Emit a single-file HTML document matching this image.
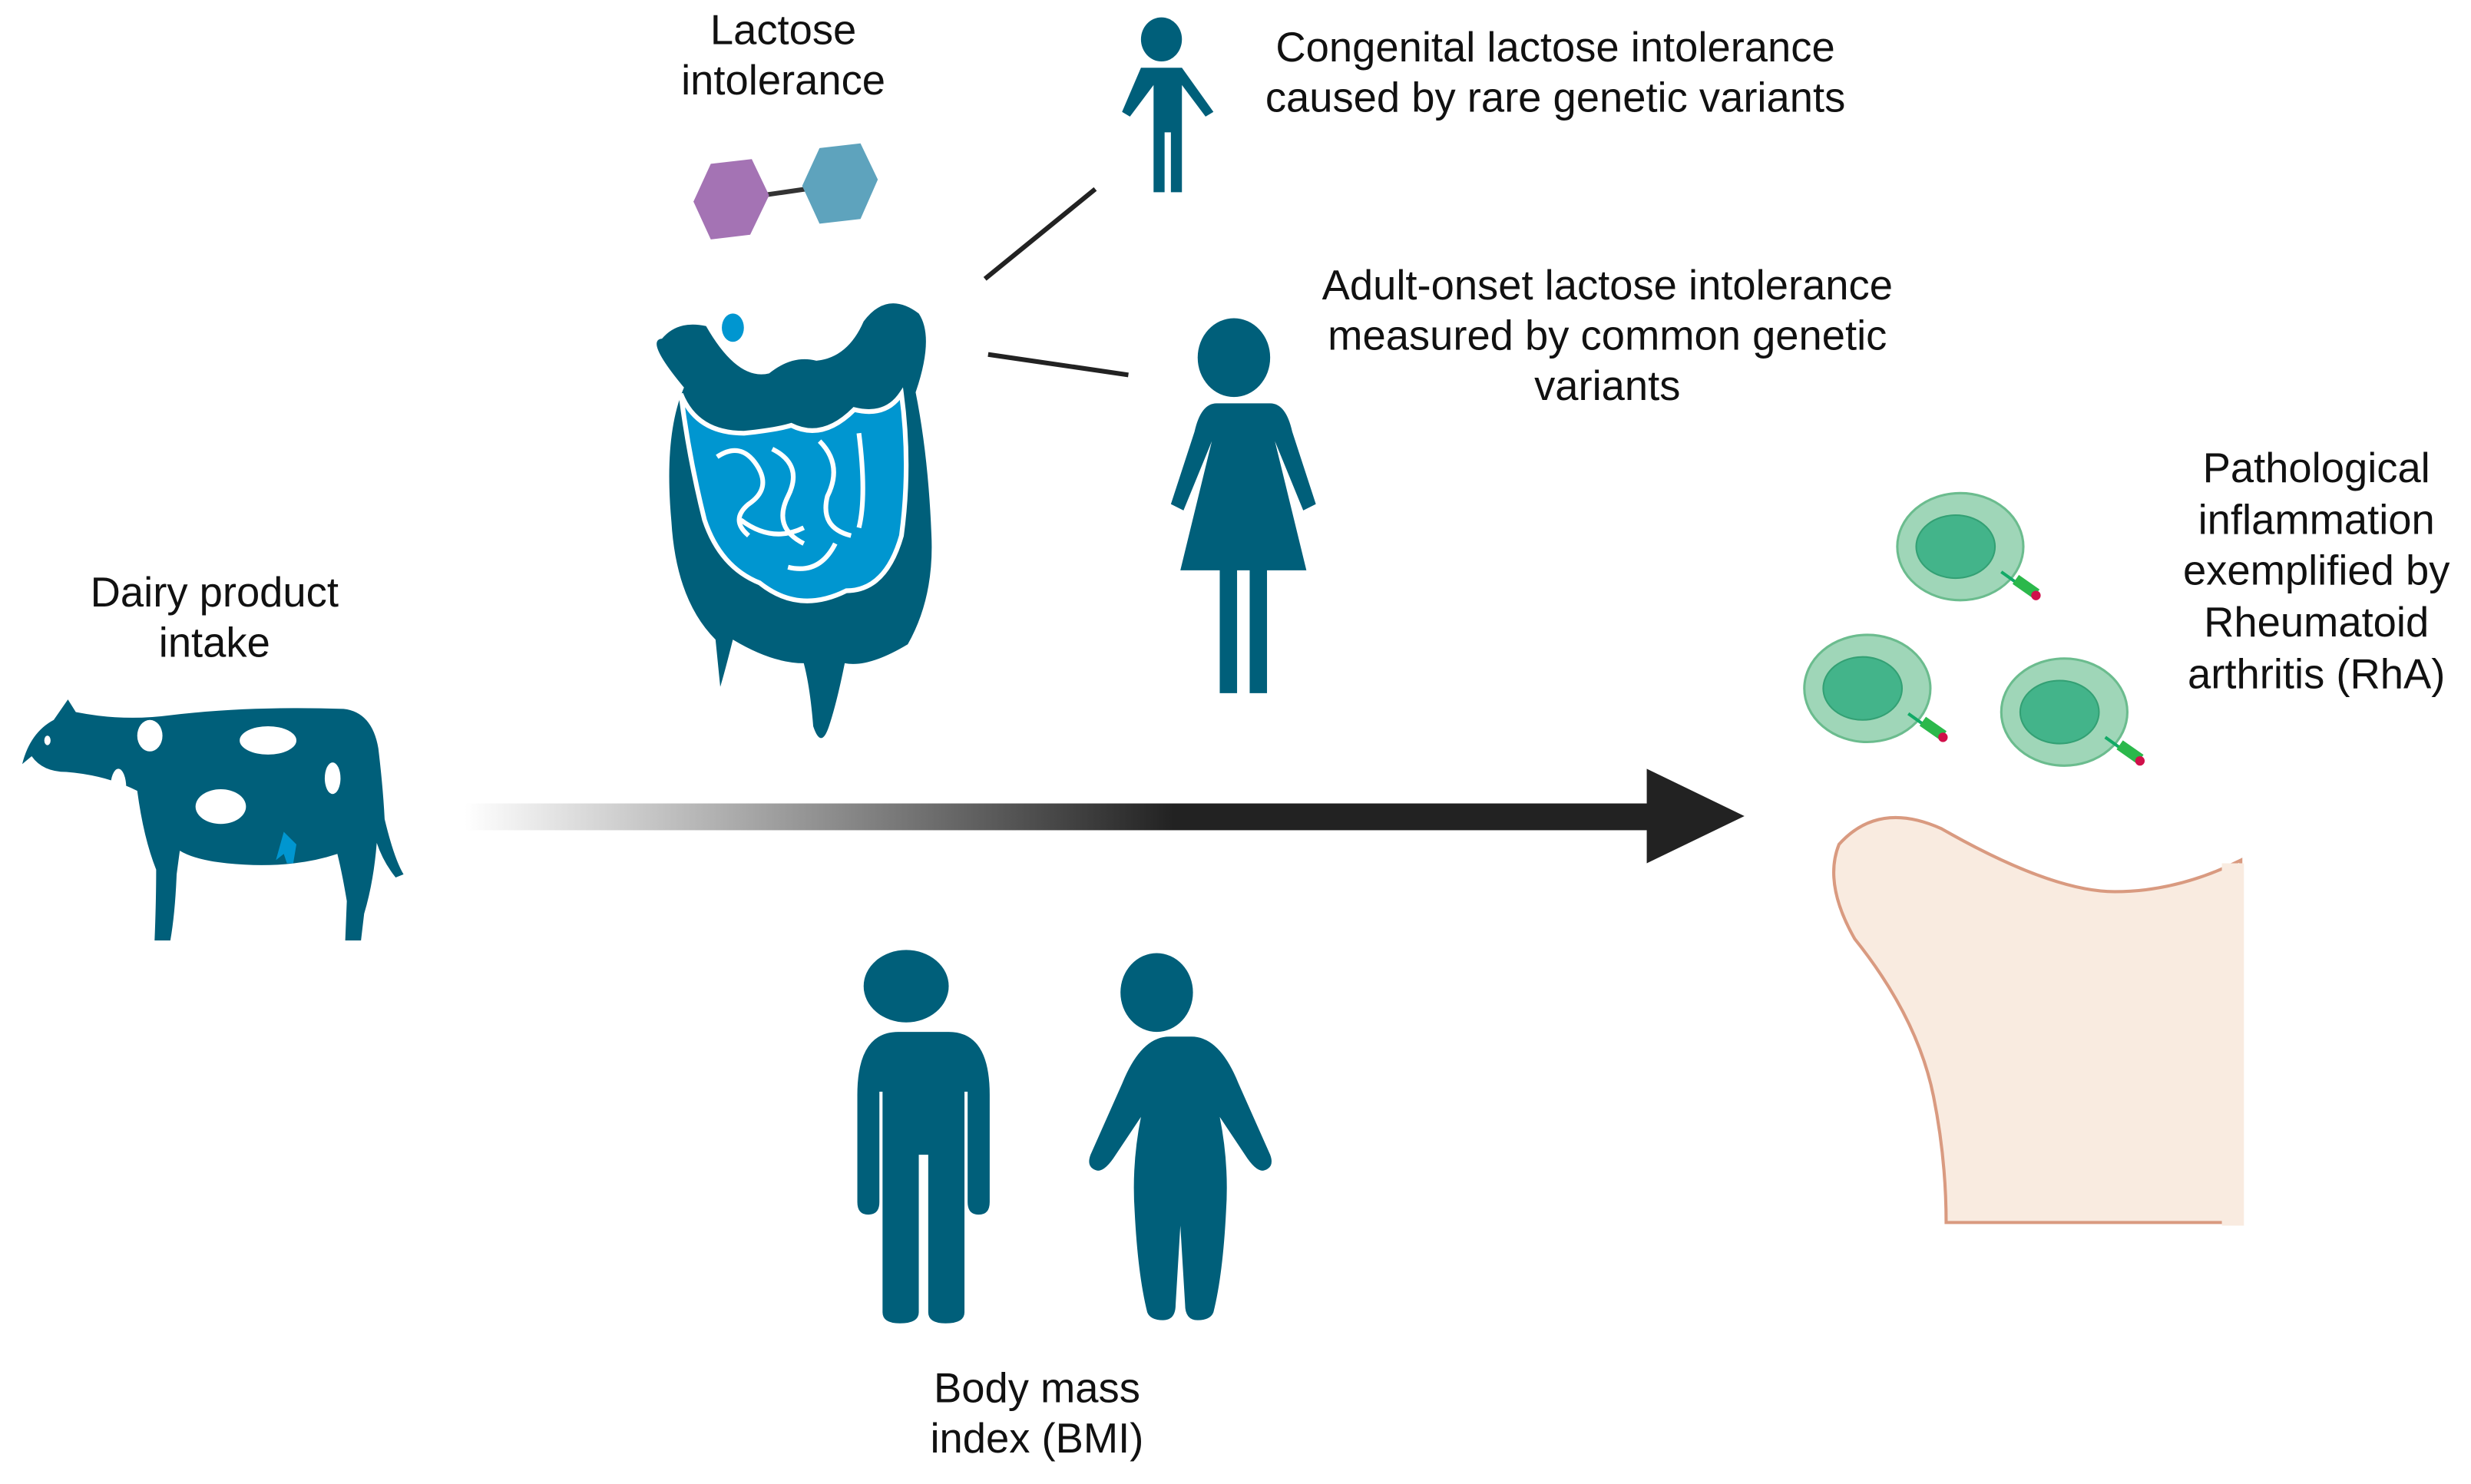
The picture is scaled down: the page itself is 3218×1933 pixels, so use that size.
<!DOCTYPE html>
<html><head><meta charset="utf-8"><style>
html,body{margin:0;padding:0;background:#fff;}
svg{display:block;}
text{font-family:"Liberation Sans",sans-serif;font-size:26.5px;fill:#111;text-anchor:middle;}
</style></head><body>
<svg width="3218" height="1933" viewBox="0 0 1568 942" xmlns="http://www.w3.org/2000/svg">
<defs>
<linearGradient id="g" x1="295" y1="0" x2="1045" y2="0" gradientUnits="userSpaceOnUse">
<stop offset="0" stop-color="#fff"/><stop offset="0.6" stop-color="#222"/><stop offset="1" stop-color="#222"/>
</linearGradient>
</defs>
<text x="497" y="28">Lactose</text><text x="497" y="60">intolerance</text>
<text x="987" y="39">Congenital lactose intolerance</text><text x="987" y="71">caused by rare genetic variants</text>
<text x="1020" y="190">Adult-onset lactose intolerance</text><text x="1020" y="222">measured by common genetic</text><text x="1020" y="254">variants</text>
<text x="136" y="385">Dairy product</text><text x="136" y="417">intake</text>
<text x="1470" y="306">Pathological</text><text x="1470" y="339">inflammation</text><text x="1470" y="371">exemplified by</text><text x="1470" y="404">Rheumatoid</text><text x="1470" y="437">arthritis (RhA)</text>
<text x="658" y="890">Body mass</text><text x="658" y="922">index (BMI)</text>
<line x1="463" y1="127" x2="532" y2="117" stroke="#333" stroke-width="3"/>
<polygon points="451,104 477,101 488,124 476,149 451,152 440,128" fill="#a473b4"/>
<polygon points="520,94 546,91 557,114 546,139 520,142 509,118" fill="#5ea3bd"/>
<line x1="625" y1="177" x2="695" y2="120" stroke="#222" stroke-width="3"/>
<line x1="627" y1="225" x2="716" y2="238" stroke="#222" stroke-width="3"/>
<g fill="#005f7a">
<ellipse cx="737" cy="25" rx="13" ry="14"/>
<path d="M724,43 h26 l20,28 l-5,3 l-15,-20 v68 h-7 v-38 h-4 v38 h-7 v-68 l-15,20 l-5,-3 z"/>
<ellipse cx="783" cy="227" rx="23" ry="25"/>
<path d="M760,256 h46 q10,0 14,18 l15,46 l-8,4 l-18,-44 l20,82 h-25 v78 h-11 v-78 h-8 v78 h-11 v-78 h-25 l20,-82 l-18,44 l-8,-4 l15,-46 q4,-18 14,-18 z"/>
<ellipse cx="575" cy="626" rx="27" ry="23"/>
<path d="M548,655 h54 q26,0 26,40 v68 q0,8 -7,8 q-7,0 -7,-8 v-70 h-2 v140 q0,7 -12,7 q-11,0 -11,-7 v-100 h-6 v100 q0,7 -12,7 q-11,0 -11,-7 v-140 h-2 v70 q0,8 -7,8 q-7,0 -7,-8 v-68 q0,-40 26,-40 z"/>
<ellipse cx="734" cy="630" rx="23" ry="25"/>
<path d="M712,658 h44 q18,0 30,30 l20,45 q3,8 -4,10 q-5,1 -12,-10 l-16,-24 q6,30 4,60 q-2,40 -8,64 q-2,5 -10,5 q-8,0 -8,-10 l-3,-50 l-3,50 q0,10 -8,10 q-8,0 -10,-5 q-6,-24 -8,-64 q-2,-30 4,-60 l-16,24 q-7,11 -12,10 q-7,-2 -4,-10 l20,-45 q12,-30 30,-30 z"/>
<path d="M420,215 q10,-12 28,-8 q20,35 40,30 q15,-12 30,-8 q20,-2 30,-25 q15,-20 35,-5 q10,15 -2,50 q8,40 10,90 q2,40 -15,70 q-25,15 -40,12 q-5,25 -10,40 q-5,15 -10,0 q-2,-25 -6,-40 q-20,0 -45,-15 q-5,20 -8,30 l-3,-30 q-25,-25 -28,-75 q-5,-55 8,-85 q-25,-30 -14,-31 z"/>
<ellipse cx="465" cy="208" rx="7" ry="9" fill="#0096d0"/>
</g>
<path d="M432,250 q10,25 40,25 q20,-2 30,-5 q20,10 40,-10 q20,5 30,-10 q6,45 0,90 q-10,35 -35,35 q-30,15 -55,-5 q-25,-10 -35,-40 q-10,-40 -15,-80 z" fill="#0096d0" stroke="#fff" stroke-width="3"/>
<path d="M455,290 q15,-10 25,5 q10,15 -5,25 q-12,10 0,20 M490,285 q20,10 10,30 q-10,20 10,30 M520,280 q15,15 5,35 q-5,20 15,25 M470,330 q20,15 40,5 M500,360 q20,5 30,-15 M545,275 q5,40 0,60" fill="none" stroke="#fff" stroke-width="3"/>
<!-- cow -->
<path fill="#005f7a" d="M14,485 q5,-20 20,-28 l9,-13 l5,8 q30,6 60,2 q50,-6 110,-4 q18,2 22,25 q3,25 4,45 q6,25 12,35 l-5,2 q-8,-10 -12,-22 q-2,25 -8,45 l-2,17 h-10 l1,-25 q-3,-18 -6,-30 q-30,10 -70,6 q-20,-2 -30,-8 l-2,15 q-1,25 -4,42 h-10 q1,-25 1,-45 q-8,-20 -12,-50 q-20,-10 -45,-12 q-15,0 -22,-10 z"/>
<g fill="#fff"><ellipse cx="30" cy="470" rx="2" ry="3"/><ellipse cx="140" cy="512" rx="16" ry="11"/><ellipse cx="211" cy="494" rx="5" ry="10"/><ellipse cx="95" cy="467" rx="8" ry="10"/><ellipse cx="170" cy="470" rx="18" ry="9"/><ellipse cx="75" cy="500" rx="5" ry="12"/></g>
<path d="M180,528 l8,8 l-2,12 h-4 l-2,-6 l-5,4 z" fill="#0096d0"/>
<rect x="295" y="510" width="752" height="17" fill="url(#g)"/>
<polygon points="1045,488 1107,518 1045,548" fill="#222"/>
<path d="M1422,546 q-40,20 -80,20 q-40,0 -110,-40 q-40,-18 -65,10 q-10,25 10,60 q40,50 50,100 q8,40 8,80 h187 z" fill="#f9ebe0" stroke="#d99a80" stroke-width="2"/>
<rect x="1410" y="548" width="14" height="230" fill="#f9ebe0"/>
<g>
<g transform="translate(1244,347)"><ellipse rx="40" ry="34" fill="#9fd6b8" stroke="#6bbc8e" stroke-width="1.5"/><ellipse cx="-3" cy="0" rx="25" ry="20" fill="#43b48a" stroke="#33a074"/><line x1="26" y1="16" x2="40" y2="26" stroke="#1a6" stroke-width="2"/><rect x="34" y="22" width="16" height="7" fill="#2bb84b" transform="rotate(35 42 25)"/><circle cx="48" cy="31" r="3" fill="#d0104a"/></g>
<g transform="translate(1185,437)"><ellipse rx="40" ry="34" fill="#9fd6b8" stroke="#6bbc8e" stroke-width="1.5"/><ellipse cx="-3" cy="0" rx="25" ry="20" fill="#43b48a" stroke="#33a074"/><line x1="26" y1="16" x2="40" y2="26" stroke="#1a6" stroke-width="2"/><rect x="34" y="22" width="16" height="7" fill="#2bb84b" transform="rotate(35 42 25)"/><circle cx="48" cy="31" r="3" fill="#d0104a"/></g>
<g transform="translate(1310,452)"><ellipse rx="40" ry="34" fill="#9fd6b8" stroke="#6bbc8e" stroke-width="1.5"/><ellipse cx="-3" cy="0" rx="25" ry="20" fill="#43b48a" stroke="#33a074"/><line x1="26" y1="16" x2="40" y2="26" stroke="#1a6" stroke-width="2"/><rect x="34" y="22" width="16" height="7" fill="#2bb84b" transform="rotate(35 42 25)"/><circle cx="48" cy="31" r="3" fill="#d0104a"/></g>
</g>
</svg>
</body></html>
